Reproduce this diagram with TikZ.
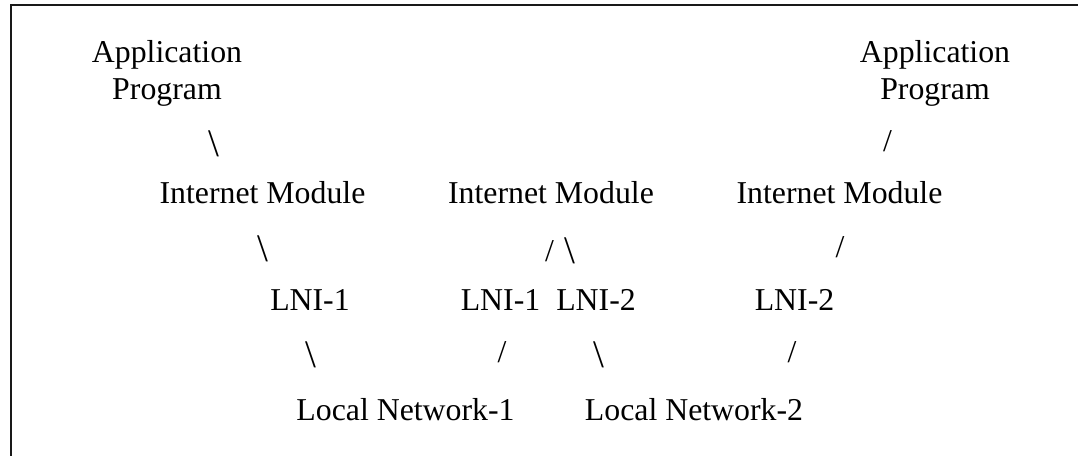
\documentclass[tikz,border=0pt]{standalone}
\usepackage{fontspec}
\setmainfont{Liberation Serif}
\begin{document}
\begin{tikzpicture}[x=1pt,y=-1pt,
  lbl/.style={inner sep=0pt,outer sep=0pt,anchor=base,font=\fontsize{31.8}{38}\selectfont},
  slash/.style={inner sep=0pt,outer sep=0pt,anchor=center,font=\fontsize{31.8}{38}\selectfont},
  bslash/.style={inner sep=0pt,outer sep=0pt,anchor=center,font=\fontsize{39}{44}\selectfont}]
  \useasboundingbox (0,0) rectangle (1078,456);
  % frame: top and left edges only
  \draw[line width=2pt,black!90] (1078,4.5) -- (11,4.5) -- (11,456);

  % host A
  \node[lbl] (appA1) at (167,62) {Application};
  \node[lbl] (appA2) at (167,99) {Program};
  \node[bslash] (sA1) at (214,143.5) {\textbackslash};
  \node[lbl] (imA) at (262.5,203) {Internet Module};
  \node[bslash] (sA2) at (262.5,248.5) {\textbackslash};
  \node[lbl] (lniA) at (310,310) {LNI-1};
  \node[bslash] (sA3) at (311,354.5) {\textbackslash};

  % gateway
  \node[lbl] (imG) at (551,203) {Internet Module};
  \node[slash] (sG1) at (549.5,251) {/};
  \node[bslash] (sG2) at (570,251) {\textbackslash};
  \node[lbl] (lniG1) at (500.5,310) {LNI-1};
  \node[lbl] (lniG2) at (596,310) {LNI-2};
  \node[slash] (sG3) at (502,352) {/};
  \node[bslash] (sG4) at (599,354.5) {\textbackslash};

  % host B
  \node[lbl] (appB1) at (935,62) {Application};
  \node[lbl] (appB2) at (935,99) {Program};
  \node[slash] (sB1) at (887.5,141.5) {/};
  \node[lbl] (imB) at (839.5,203) {Internet Module};
  \node[slash] (sB2) at (840,247) {/};
  \node[lbl] (lniB) at (794.5,310) {LNI-2};
  \node[slash] (sB3) at (792,352) {/};

  % local networks
  \node[lbl] (net1) at (405.5,420) {Local Network-1};
  \node[lbl] (net2) at (694,420) {Local Network-2};
\end{tikzpicture}
\end{document}
